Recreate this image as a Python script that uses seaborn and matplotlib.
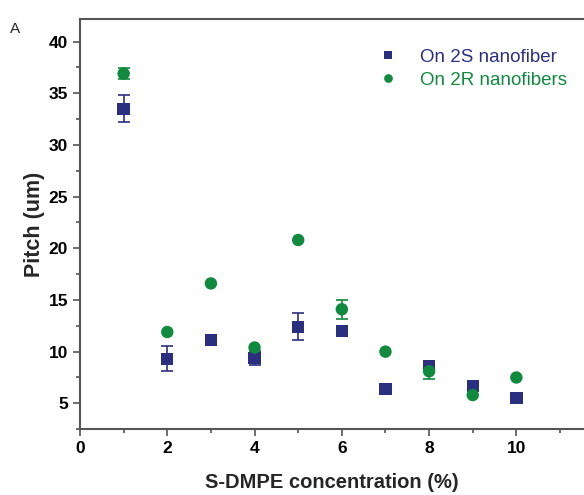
import numpy as np
import pandas as pd
import matplotlib
matplotlib.use('Agg')
import matplotlib.pyplot as plt
from matplotlib.ticker import MultipleLocator
import seaborn as sb

sb.set_style('ticks')
plt.rcParams['font.family'] = ['Liberation Sans', 'DejaVu Sans']

conc = [1, 2, 3, 4, 5, 6, 7, 8, 9, 10]
pitch_2S = [33.5, 9.3, 11.1, 9.4, 12.4, 12.0, 6.4, 8.6, 6.7, 5.5]
err_2S = [1.3, 1.2, 0.0, 0.7, 1.3, 0.0, 0.0, 0.0, 0.0, 0.0]
pitch_2R = [36.9, 11.9, 16.6, 10.4, 20.8, 14.1, 10.0, 8.1, 5.8, 7.5]
err_2R = [0.5, 0.0, 0.0, 0.0, 0.0, 0.9, 0.0, 0.7, 0.0, 0.0]
series = ['On 2S nanofiber', 'On 2R nanofibers']
colors = ['#2b2f80', '#0f8a3f']

df = pd.DataFrame({
    'conc': conc * 2,
    'pitch': pitch_2S + pitch_2R,
    'err': err_2S + err_2R,
    'series': [series[0]] * len(conc) + [series[1]] * len(conc),
})

fig = plt.figure(figsize=(5.84, 4.95), dpi=100)
ax = fig.add_axes([0.137, 0.133, 0.863, 0.829])

for name, c in zip(series, colors):
    sub = df[df['series'] == name]
    sub = sub[sub['err'] > 0]
    ax.errorbar(sub['conc'], sub['pitch'], yerr=sub['err'], fmt='none',
                ecolor=c, elinewidth=1.2, capsize=4, capthick=1.2, zorder=2)

ax = sb.scatterplot(data=df, x='conc', y='pitch', hue='series', style='series',
                    markers={series[0]: 's', series[1]: 'o'},
                    palette=dict(zip(series, colors)), s=80, linewidth=0,
                    ax=ax, zorder=3)

ax.set_xlim(0, 11.55)
ax.set_ylim(2.5, 42.2)
ax.xaxis.set_major_locator(MultipleLocator(2))
ax.xaxis.set_minor_locator(MultipleLocator(1))
ax.yaxis.set_major_locator(MultipleLocator(5))
ax.yaxis.set_minor_locator(MultipleLocator(2.5))
ax.set_yticks([5, 10, 15, 20, 25, 30, 35, 40])
ax.tick_params(which='major', direction='out', length=5, width=1.2, colors='#555555',
               labelcolor='black', labelsize=12.5)
ax.tick_params(which='minor', direction='out', length=3, width=1.2, colors='#555555')
for lab in ax.get_xticklabels() + ax.get_yticklabels():
    lab.set_fontweight('bold')

for side in ['left', 'bottom', 'top']:
    ax.spines[side].set_color('#555555')
    ax.spines[side].set_linewidth(1.5)
ax.spines['right'].set_visible(False)

ax.set_xlabel('S-DMPE concentration (%)', fontsize=14.5, fontweight='bold', labelpad=12)
ax.set_ylabel('Pitch (um)', fontsize=15.5, fontweight='bold', labelpad=3)

leg = ax.legend(loc='upper right', bbox_to_anchor=(1.0, 0.968), frameon=False,
                fontsize=13.5, handletextpad=0.7, labelspacing=0.3, markerscale=0.7)
for txt, c in zip(leg.get_texts(), colors):
    txt.set_color(c)

fig.text(0.017, 0.942, 'A', fontsize=11, va='center')

plt.savefig('out.png', dpi=100)
